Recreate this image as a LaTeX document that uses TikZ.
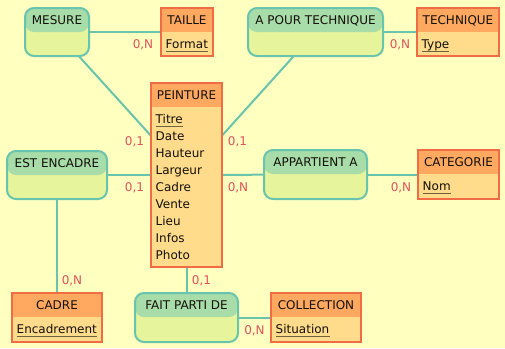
\documentclass[tikz,border=0pt]{standalone}
\usepackage{fontspec}
\setmainfont{DejaVu Sans}
\usetikzlibrary{positioning}

\definecolor{papier}{RGB}{255,255,192}
\definecolor{enttitre}{RGB}{255,169,96}
\definecolor{entcorps}{RGB}{255,219,140}
\definecolor{entbord}{RGB}{240,108,68}
\definecolor{asstitre}{RGB}{168,220,168}
\definecolor{asscorps}{RGB}{230,244,155}
\definecolor{assbord}{RGB}{104,196,172}
\definecolor{liencol}{RGB}{104,196,172}
\definecolor{cardcol}{RGB}{222,82,92}
\definecolor{encre}{RGB}{20,16,10}
\definecolor{soulign}{RGB}{112,98,62}

\pgfdeclarelayer{fond}
\pgfdeclarelayer{liens}
\pgfsetlayers{fond,liens,main}

\begin{document}
\begin{tikzpicture}[x=1pt,y=-1pt,
    every node/.style={inner sep=0pt, font=\fontsize{12}{14}\selectfont},
    boite/.style={rectangle, line width=2pt,
        path picture={\fill[#1] (path picture bounding box.north west) rectangle ([yshift=-24pt]path picture bounding box.north east);}},
    entite/.style={boite=enttitre, draw=entbord, fill=entcorps},
    assoc/.style={boite=asstitre, draw=assbord, fill=asscorps, rounded corners=9pt},
    titre/.style={anchor=base, text=encre},
    attr/.style={anchor=base west, text=encre},
    card/.style={text=cardcol},
    lien/.style={draw=liencol, line width=2pt},
    cle/.style={draw=soulign, line width=1.6pt}]
    \useasboundingbox (0,0) rectangle (505,348);
    \begin{pgfonlayer}{fond}
        \fill[papier] (0,0) rectangle (505,348);
    \end{pgfonlayer}

    % associations
    \node[assoc, minimum width=64pt, minimum height=48pt] (mesure) at (57,32) {};
    \node[assoc, minimum width=135pt, minimum height=48pt] (apourtech) at (315.5,32) {};
    \node[assoc, minimum width=100pt, minimum height=48pt] (estencadre) at (57,175) {};
    \node[assoc, minimum width=103pt, minimum height=49pt] (appartient) at (315.5,174.5) {};
    \node[assoc, minimum width=103pt, minimum height=49pt] (faitparti) at (186.5,317.5) {};

    % entites
    \node[entite, minimum width=52pt, minimum height=48pt] (taille) at (187,32) {};
    \node[entite, minimum width=82pt, minimum height=48pt] (technique) at (458,32) {};
    \node[entite, minimum width=71pt, minimum height=184pt] (peinture) at (186.5,175) {};
    \node[entite, minimum width=81pt, minimum height=49pt] (categorie) at (458.5,174.5) {};
    \node[entite, minimum width=90pt, minimum height=49pt] (cadre) at (57,317.5) {};
    \node[entite, minimum width=90pt, minimum height=49pt] (collection) at (316,317.5) {};

    % titres
    \node[titre] (mesure-t) at ([yshift=-17pt]mesure.north) {MESURE};
    \node[titre] (apourtech-t) at ([yshift=-17pt]apourtech.north) {A POUR TECHNIQUE};
    \node[titre] (estencadre-t) at ([yshift=-17pt]estencadre.north) {EST ENCADRE};
    \node[titre] (appartient-t) at ([yshift=-17pt]appartient.north) {APPARTIENT A};
    \node[titre] (faitparti-t) at ([yshift=-17pt]faitparti.north) {FAIT PARTI DE};
    \node[titre] (taille-t) at ([yshift=-17pt]taille.north) {TAILLE};
    \node[titre] (technique-t) at ([yshift=-17pt]technique.north) {TECHNIQUE};
    \node[titre] (peinture-t) at ([yshift=-17pt]peinture.north) {PEINTURE};
    \node[titre] (categorie-t) at ([yshift=-17pt]categorie.north) {CATEGORIE};
    \node[titre] (cadre-t) at ([yshift=-17pt]cadre.north) {CADRE};
    \node[titre] (collection-t) at ([yshift=-17pt]collection.north) {COLLECTION};

    % attributs
    \node[attr] (format) at ([xshift=5.5pt,yshift=-41.5pt]taille.north west) {Format};
    \node[attr] (type) at ([xshift=5.5pt,yshift=-41.5pt]technique.north west) {Type};
    \node[attr] (nom) at ([xshift=5.5pt,yshift=-41.5pt]categorie.north west) {Nom};
    \node[attr] (encadrement) at ([xshift=5.5pt,yshift=-41.5pt]cadre.north west) {Encadrement};
    \node[attr] (situation) at ([xshift=5.5pt,yshift=-41.5pt]collection.north west) {Situation};
    \node[attr] (titre) at ([xshift=5.5pt,yshift=-41.5pt]peinture.north west) {Titre};
    \foreach \a [count=\i] in {Date,Hauteur,Largeur,Cadre,Vente,Lieu,Infos,Photo}
        \node[attr] (attr-\i) at ([yshift=-17*\i pt]titre.base west) {\a};
    \foreach \k in {format,type,nom,encadrement,situation,titre}
        \draw[cle] ([yshift=-3pt]\k.base west) -- ([yshift=-3pt]\k.base east);

    % liens
    \begin{pgfonlayer}{liens}
        \draw[lien] (mesure.center) -- (taille.center);
        \draw[lien] (mesure.center) -- (peinture.center);
        \draw[lien] (apourtech.center) -- (technique.center);
        \draw[lien] (apourtech.center) -- (peinture.center);
        \draw[lien] (estencadre.center) -- (peinture.center);
        \draw[lien] (estencadre.center) -- (cadre.center);
        \draw[lien] (peinture.center) -- (appartient.center);
        \draw[lien] (appartient.center) -- (categorie.center);
        \draw[lien] (peinture.center) -- (faitparti.center);
        \draw[lien] (faitparti.center) -- (collection.center);
    \end{pgfonlayer}

    % cardinalites
    \node[card] (c-taille) at (143,44.5) {0,N};
    \node[card] (c-technique) at (400,44.5) {0,N};
    \node[card] (c-mesure) at (134.5,141.5) {0,1};
    \node[card] (c-apourtech) at (237.5,141.5) {0,1};
    \node[card] (c-estencadre) at (134.5,188) {0,1};
    \node[card] (c-appartient) at (238,188) {0,N};
    \node[card] (c-categorie) at (401,188) {0,N};
    \node[card] (c-cadre) at (72,280.5) {0,N};
    \node[card] (c-faitparti) at (201.5,280.5) {0,1};
    \node[card] (c-collection) at (254.5,331) {0,N};
\end{tikzpicture}
\end{document}
